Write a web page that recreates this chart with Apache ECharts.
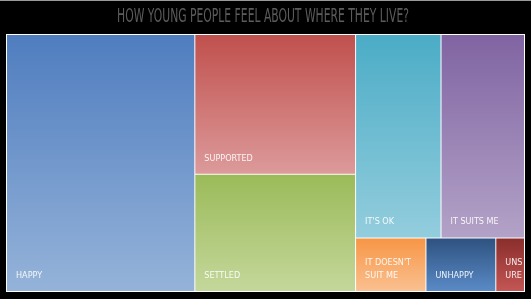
<!DOCTYPE html>
<html><head><meta charset="utf-8">
<script src="https://cdn.jsdelivr.net/npm/echarts@6/dist/echarts.min.js"></script>
<style>html,body{margin:0;padding:0;background:#000;}#c{width:531px;height:299px;}</style>
</head><body><div id="c"></div>
<script>
var titleText = 'HOW YOUNG PEOPLE FEEL ABOUT WHERE THEY LIVE?';
var categories = ["HAPPY","SUPPORTED","SETTLED","IT'S OK","IT SUITS ME","IT DOESN'T SUIT ME","UNHAPPY","UNSURE"];
var values = [36.2, 16.8, 14.1, 13.0, 12.7, 2.82, 2.8, 1.15];
var topColors = ["#4f7dbf","#c0504d","#9bbb59","#4bacc6","#8064a2","#f79646","#2e5280","#8a2e2c"];
var bottomColors = ["#95b3d9","#dc9a9a","#c4d79b","#93cddd","#b3a2c7","#fac090","#5a8ac6","#c35654"];

var data = categories.map(function(n,i){
  return {name:n, value:values[i], itemStyle:{color:new echarts.graphic.LinearGradient(0,0,0,1,[{offset:0,color:topColors[i]},{offset:1,color:bottomColors[i]}])}};
});
var font = '"DejaVu Sans Condensed", "Liberation Sans Narrow", sans-serif';
var chart = echarts.init(document.getElementById('c'));
chart.setOption({
  backgroundColor:'#000',
  graphic:[
    {type:'rect', shape:{x:0,y:0,width:531,height:1}, style:{fill:'#9a9a9a'}, silent:true},
    {type:'text', x:263, y:7, scaleX:0.6, silent:true,
     style:{text:titleText, x:0, y:0, align:'center', verticalAlign:'top', fontSize:20, fontFamily:font, fill:'#5c5c5c'}}
  ],
  series:[{
    type:'treemap', left:6, top:34, width:519, height:258, squareRatio:1.4,
    roam:false, nodeClick:false, breadcrumb:{show:false}, animation:false,
    label:{show:true, position:'insideBottomLeft', distance:0, padding:[0,0,9,9], color:'rgba(255,255,255,0.9)',
      fontFamily:font, fontSize:9, overflow:'break', lineHeight:13},
    upperLabel:{show:false},
    levels:[{itemStyle:{borderWidth:1, borderColor:'#fff', gapWidth:1}}],
    data:data
  }]
});
</script></body></html>
